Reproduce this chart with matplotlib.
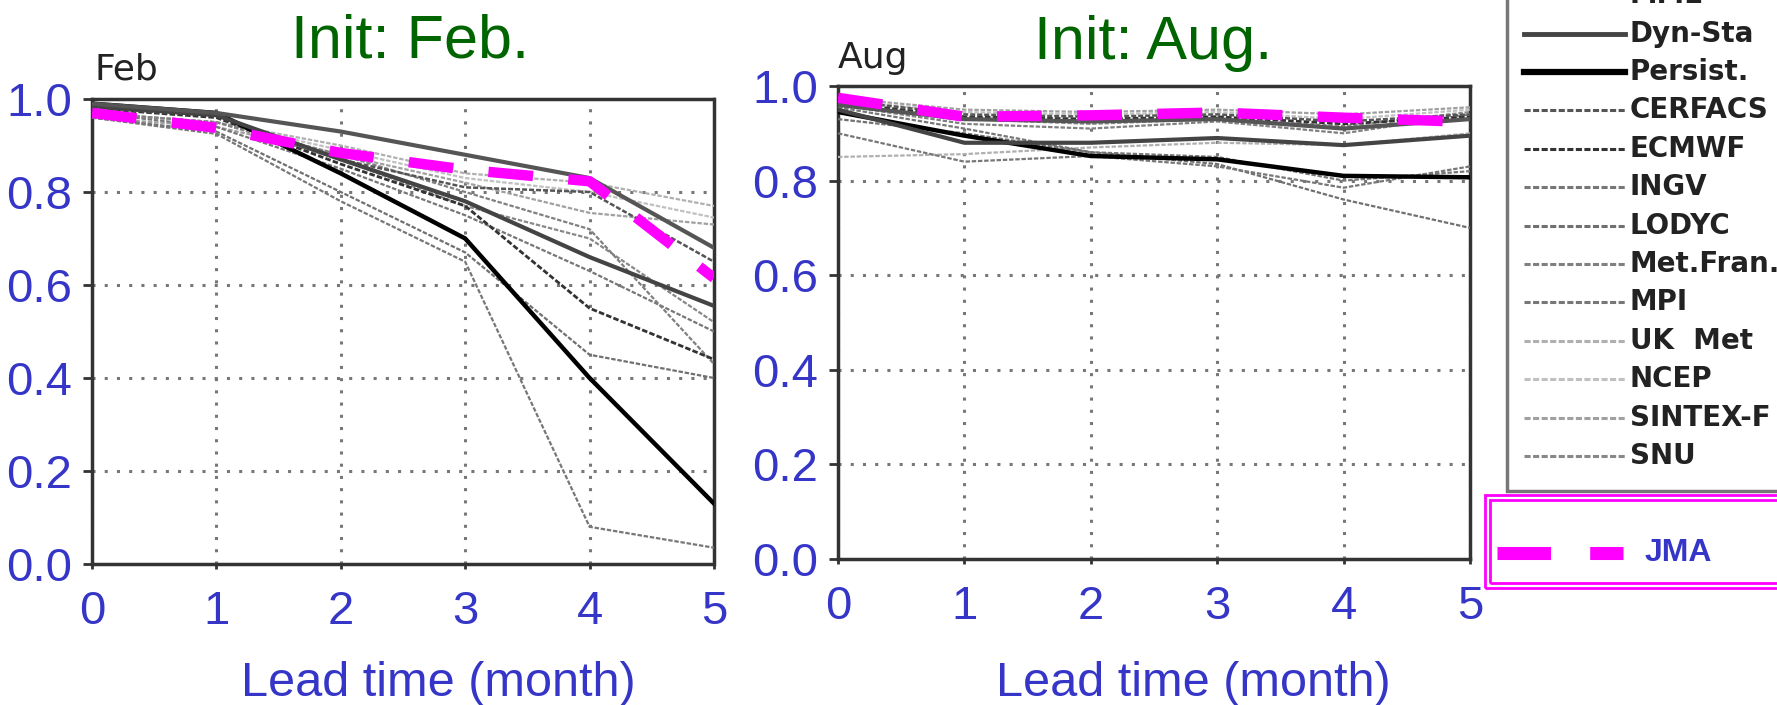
import matplotlib
matplotlib.use("Agg")
import matplotlib.pyplot as plt
from matplotlib.lines import Line2D
from matplotlib.patches import Rectangle

W, H = 1777, 705

lead = [0, 1, 2, 3, 4, 5]

names = ["MME", "Dyn-Sta", "Persist.", "CERFACS", "ECMWF", "INGV", "LODYC",
         "Met.Fran.", "MPI", "UK  Met", "NCEP", "SINTEX-F", "SNU"]

feb = {
    "MME":       [0.99, 0.97, 0.93, 0.88, 0.83, 0.68],
    "Dyn-Sta":   [0.985, 0.965, 0.87, 0.78, 0.66, 0.555],
    "Persist.":  [0.99, 0.97, 0.84, 0.70, 0.40, 0.13],
    "CERFACS":   [0.98, 0.965, 0.87, 0.81, 0.80, 0.65],
    "ECMWF":     [0.98, 0.96, 0.86, 0.77, 0.55, 0.44],
    "INGV":      [0.96, 0.925, 0.78, 0.65, 0.08, 0.035],
    "LODYC":     [0.96, 0.93, 0.80, 0.67, 0.45, 0.40],
    "Met.Fran.": [0.97, 0.95, 0.88, 0.80, 0.72, 0.43],
    "MPI":       [0.97, 0.94, 0.85, 0.75, 0.63, 0.50],
    "UK  Met":   [0.97, 0.95, 0.90, 0.84, 0.82, 0.77],
    "NCEP":      [0.97, 0.95, 0.89, 0.83, 0.80, 0.745],
    "SINTEX-F":  [0.96, 0.94, 0.88, 0.82, 0.755, 0.73],
    "SNU":       [0.97, 0.95, 0.87, 0.77, 0.70, 0.52],
}
feb_jma = [0.97, 0.938, 0.884, 0.848, 0.823, 0.615]

aug = {
    "MME":       [0.96, 0.93, 0.925, 0.93, 0.91, 0.93],
    "Dyn-Sta":   [0.95, 0.88, 0.88, 0.89, 0.875, 0.895],
    "Persist.":  [0.945, 0.895, 0.852, 0.845, 0.81, 0.807],
    "CERFACS":   [0.97, 0.94, 0.935, 0.94, 0.925, 0.94],
    "ECMWF":     [0.965, 0.935, 0.93, 0.935, 0.92, 0.935],
    "INGV":      [0.90, 0.84, 0.852, 0.83, 0.785, 0.83],
    "LODYC":     [0.93, 0.90, 0.86, 0.835, 0.76, 0.70],
    "Met.Fran.": [0.96, 0.92, 0.91, 0.925, 0.90, 0.94],
    "MPI":       [0.955, 0.91, 0.86, 0.85, 0.80, 0.82],
    "UK  Met":   [0.85, 0.856, 0.87, 0.88, 0.875, 0.90],
    "NCEP":      [0.97, 0.945, 0.94, 0.945, 0.93, 0.95],
    "SINTEX-F":  [0.975, 0.95, 0.945, 0.95, 0.94, 0.955],
    "SNU":       [0.96, 0.93, 0.92, 0.93, 0.915, 0.945],
}
aug_jma = [0.975, 0.935, 0.938, 0.944, 0.933, 0.924]

# line styles per entry: (color, width, dashes)
dense = (0, (2, 0.8))
styles = {
    "MME":       ("#555555", 3.0, "-"),
    "Dyn-Sta":   ("#444444", 3.0, "-"),
    "Persist.":  ("#000000", 3.2, "-"),
    "CERFACS":   ("#555555", 1.8, dense),
    "ECMWF":     ("#333333", 2.0, dense),
    "INGV":      ("#777777", 1.6, dense),
    "LODYC":     ("#707070", 1.6, dense),
    "Met.Fran.": ("#808080", 1.6, dense),
    "MPI":       ("#777777", 1.6, dense),
    "UK  Met":   ("#b0b0b0", 1.6, dense),
    "NCEP":      ("#c0c0c0", 1.6, dense),
    "SINTEX-F":  ("#a0a0a0", 1.6, dense),
    "SNU":       ("#888888", 1.6, dense),
}

BLUE = "#3535c8"
GREEN = "#006400"
MAGENTA = "#ff00ff"


def fx(x):
    return x / W


def fy(y):
    return 1 - y / H


fig = plt.figure(figsize=(W / 100, H / 100), dpi=100)

panels = [
    # left, top, right, bottom in pixels
    ((92, 99, 714, 564), feb, feb_jma, "Feb", "Init: Feb.", (94, 80), (410, 58), 438),
    ((838, 86, 1470, 559), aug, aug_jma, "Aug", "Init: Aug.", (838, 68), (1153, 59), 1193),
]

for box, data, jma, tag, title, tagpos, titlepos, xlab in panels:
    l, t, r, b = box
    ax = fig.add_axes([fx(l), fy(b), (r - l) / W, (b - t) / H])
    for name in reversed(names):
        c, lw, ls = styles[name]
        ax.plot(lead, data[name], color=c, lw=lw, linestyle=ls, zorder=3)
    ax.plot(lead, jma, color=MAGENTA, lw=7.5, linestyle=(0, (4.3, 3.4)),
            solid_capstyle="butt", zorder=5)

    ax.set_xlim(0, 5)
    ax.set_ylim(0, 1)
    ax.set_xticks(lead)
    ax.set_yticks([0, 0.2, 0.4, 0.6, 0.8, 1.0])
    ax.set_yticklabels(["0.0", "0.2", "0.4", "0.6", "0.8", "1.0"])
    ax.grid(True, color="#777777", linestyle=(0, (1, 3)), linewidth=2.2)
    ax.tick_params(axis="x", direction="out", length=3.6, width=2, color="#333333",
                   pad=15, labelsize=34, labelcolor=BLUE)
    ax.tick_params(axis="y", direction="out", length=6.5, width=2, color="#333333",
                   pad=8, labelsize=34, labelcolor=BLUE)
    for lab in ax.get_xticklabels() + ax.get_yticklabels():
        lab.set_fontfamily("Liberation Sans")
    for sp in ax.spines.values():
        sp.set_linestyle((0, (3, 1)))
        sp.set_linewidth(2.5)
        sp.set_color("#333333")

    fig.text(fx(tagpos[0]), fy(tagpos[1]), tag, fontsize=26, color="#222222",
             family="DejaVu Sans", va="baseline", ha="left")
    fig.text(fx(titlepos[0]), fy(titlepos[1]), title, fontsize=44, color=GREEN,
             family="Liberation Sans", va="baseline", ha="center")
    fig.text(fx(xlab), fy(683), "Lead time (month)", fontsize=35, color=BLUE,
             family="Liberation Sans", va="center", ha="center")

# model legend box (top is cut off by the figure edge, as in the source)
fig.patches.append(Rectangle((fx(1507), fy(491)), (W + 10 - 1507) / W, 520 / H,
                             transform=fig.transFigure, fill=True, facecolor="white",
                             edgecolor="#777777", lw=2.5))
for i, name in enumerate(names):
    y = 456 - (len(names) - 1 - i) * 38.4
    c, lw, ls = styles[name]
    if name == "Persist.":
        lw = 4.5
    elif name in ("MME", "Dyn-Sta"):
        lw = 3.5
    else:
        lw = 2.2
    fig.lines.append(Line2D([fx(1524), fx(1625)], [fy(y), fy(y)], transform=fig.transFigure,
                            color=c, lw=lw, linestyle=ls))
    fig.text(fx(1630), fy(y), name, fontsize=20, fontweight="bold", color="#222222",
             family="DejaVu Sans", va="center", ha="left")

# JMA legend box with double magenta frame
fig.patches.append(Rectangle((fx(1485), fy(588)), (W + 10 - 1485) / W, 93 / H,
                             transform=fig.transFigure, fill=False, edgecolor=MAGENTA, lw=2))
fig.patches.append(Rectangle((fx(1490), fy(583)), (W + 10 - 1490) / W, 83 / H,
                             transform=fig.transFigure, fill=False, edgecolor=MAGENTA, lw=2))
fig.lines.append(Line2D([fx(1497), fx(1623)], [fy(553), fy(553)], transform=fig.transFigure,
                        color=MAGENTA, lw=9.4, linestyle=(0, (4.1, 3.0)),
                        solid_capstyle="butt"))
fig.text(fx(1645), fy(553), "JMA", fontsize=23, fontweight="bold", color=BLUE,
         family="Liberation Sans", va="center", ha="left")

fig.savefig("out.png", dpi=100, facecolor="white")
